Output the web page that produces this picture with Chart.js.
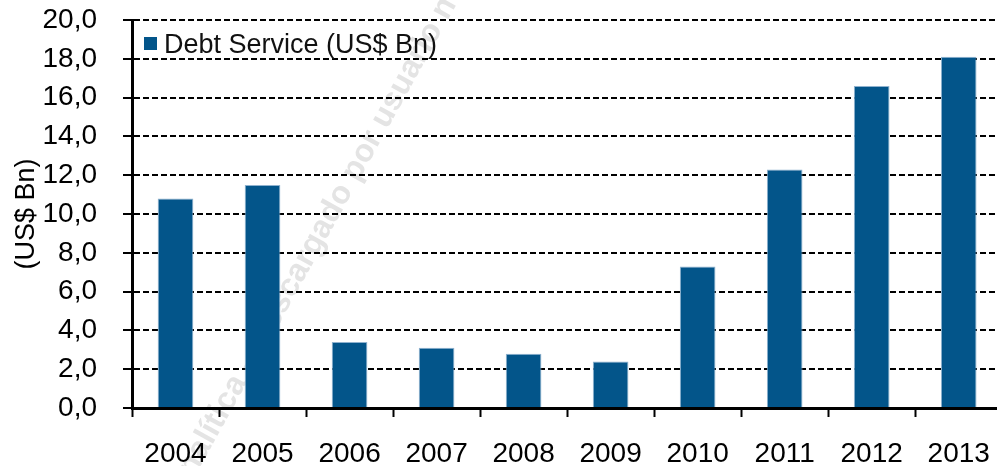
<!DOCTYPE html>
<html>
<head>
<meta charset="utf-8">
<script src="https://cdn.jsdelivr.net/npm/chart.js@4"></script>
<style>
  html, body { margin: 0; padding: 0; background: #fff; overflow: hidden; }
  #wrap { width: 1010px; height: 466px; }
</style>
</head>
<body>
<div id="wrap"><canvas id="debtChart" width="1010" height="466"></canvas></div>
<script>
// data
const years = ['2004', '2005', '2006', '2007', '2008', '2009', '2010', '2011', '2012', '2013'];
const debtService = [10.8, 11.5, 3.4, 3.1, 2.8, 2.4, 7.3, 12.3, 16.6, 18.1];
const seriesLabel = 'Debt Service (US$ Bn)';
const yTitle = '(US$ Bn)';
const watermarkText = 'analítica – Descargado por usuario no';

const barColor = '#03558a';
const font = "'Liberation Sans', Arial, sans-serif";

// faint diagonal watermark behind everything
const watermark = {
    id: 'watermark',
    beforeDraw(chart) {
        const ctx = chart.ctx;
        ctx.save();
        ctx.translate(318, 236);
        ctx.rotate(-61 * Math.PI / 180);
        ctx.font = 'bold 32px ' + font;
        ctx.fillStyle = '#e4e4e4';
        ctx.textAlign = 'center';
        ctx.textBaseline = 'middle';
        ctx.fillText(watermarkText, 0, 0);
        ctx.restore();
    }
};

// legend drawn inside the plot, top-left
const innerLegend = {
    id: 'innerLegend',
    afterDraw(chart) {
        const ctx = chart.ctx;
        const a = chart.chartArea;
        ctx.save();
        ctx.fillStyle = barColor;
        ctx.fillRect(a.left + 12, a.top + 17, 13, 13);
        ctx.fillStyle = '#111';
        ctx.font = '27px ' + font;
        ctx.textBaseline = 'middle';
        ctx.textAlign = 'left';
        ctx.fillText(chart.data.datasets[0].label, a.left + 32, a.top + 26);
        ctx.restore();
    }
};

new Chart(document.getElementById('debtChart'), {
    type: 'bar',
    data: {
        labels: years,
        datasets: [{
            label: seriesLabel,
            data: debtService,
            backgroundColor: barColor,
            borderColor: '#8fb2cf',
            borderWidth: 1,
            categoryPercentage: 1,
            barPercentage: 0.41
        }]
    },
    options: {
        responsive: false,
        animation: false,
        layout: { padding: { top: 20, right: 3, left: 0, bottom: 0 } },
        plugins: {
            legend: { display: false },
            tooltip: { enabled: false }
        },
        scales: {
            x: {
                afterFit(scale) { scale.height = 58; },
                grid: {
                    offset: true,
                    drawOnChartArea: false,
                    drawTicks: true,
                    tickLength: 9,
                    tickWidth: 2,
                    tickColor: '#000'
                },
                border: { display: true, color: '#000', width: 3 },
                ticks: {
                    color: '#000',
                    font: { family: font, size: 28 },
                    padding: 20,
                    maxRotation: 0,
                    autoSkip: false
                }
            },
            y: {
                min: 0,
                max: 20,
                afterFit(scale) {
                    scale.width = 132;
                    scale.paddingTop = 0;
                    scale.paddingBottom = 0;
                },
                grid: {
                    color: '#000',
                    lineWidth: 2,
                    tickLength: 9,
                    tickColor: '#000',
                    tickBorderDash: [],
                    drawTicks: true
                },
                border: { display: true, color: '#000', width: 3, dash: [6, 3] },
                ticks: {
                    stepSize: 2,
                    color: '#000',
                    padding: 26,
                    font: { family: font, size: 28 },
                    callback: v => v.toFixed(1).replace('.', ',')
                },
                title: {
                    display: true,
                    text: yTitle,
                    color: '#000',
                    font: { family: font, size: 27 },
                    padding: { top: 10, bottom: 0 }
                }
            }
        }
    },
    plugins: [watermark, innerLegend]
});
</script>
</body>
</html>
